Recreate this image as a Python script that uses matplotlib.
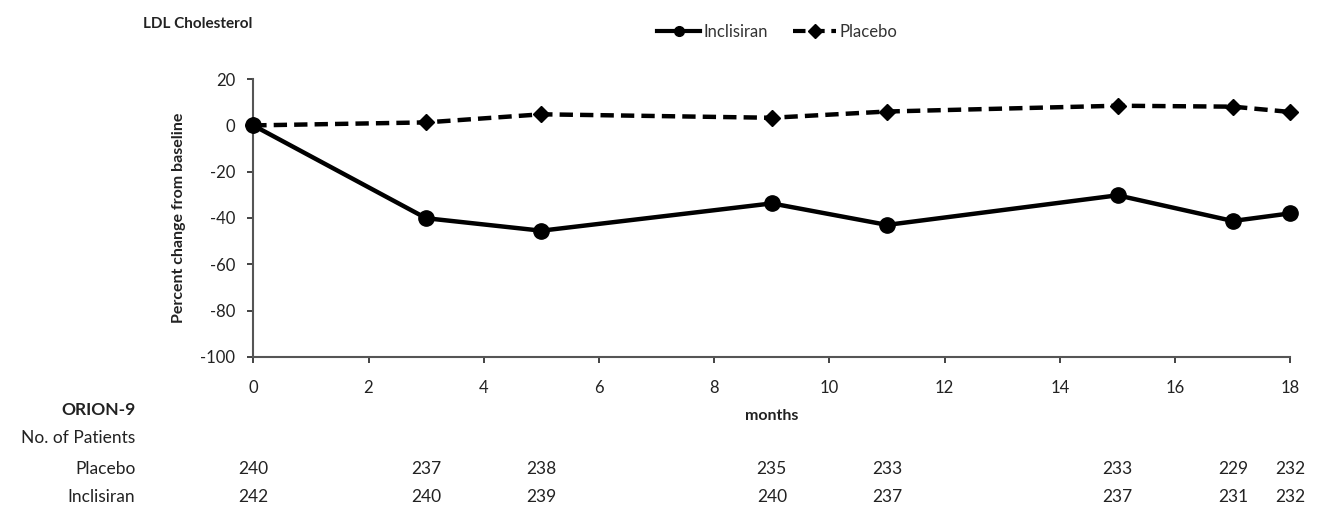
import matplotlib.pyplot as plt
import matplotlib.transforms as mtransforms

plt.rcParams['font.family'] = ['Lato', 'DejaVu Sans']
plt.rcParams['axes.unicode_minus'] = False

months = [0, 3, 5, 9, 11, 15, 17, 18]
inclisiran = [0, -40.1, -45.5, -33.7, -43.0, -30.2, -41.3, -38.0]
placebo = [0, 1.3, 4.8, 3.3, 6.0, 8.5, 8.1, 5.8]
n_placebo = [240, 237, 238, 235, 233, 233, 229, 232]
n_inclisiran = [242, 240, 239, 240, 237, 237, 231, 232]
xticks = [0, 2, 4, 6, 8, 10, 12, 14, 16, 18]
yticks = [20, 0, -20, -40, -60, -80, -100]

fig = plt.figure(figsize=(13.4, 5.31), dpi=100)
ax = fig.add_axes([0.189, 0.328, 0.774, 0.523])

ax.plot(months, inclisiran, '-', color='black', linewidth=3.2, marker='o',
        markersize=11, label='Inclisiran', zorder=3)
ax.plot(months, placebo, '--', color='black', linewidth=3.2, marker='D',
        markersize=8, dashes=(3, 1.6), label='Placebo', zorder=3)

ax.set_xlim(0, 18)
ax.set_ylim(-100, 20)
ax.set_xticks(xticks)
ax.set_yticks(yticks)
ax.tick_params(axis='both', labelsize=12, colors='#222222', length=4, width=1.2)
ax.tick_params(axis='x', pad=13)
ax.tick_params(axis='y', pad=9)
for s in ['top', 'right']:
    ax.spines[s].set_visible(False)
for s in ['left', 'bottom']:
    ax.spines[s].set_color('#555555')
    ax.spines[s].set_linewidth(1.5)
for ln in ax.lines:
    ln.set_clip_on(False)

ax.set_xlabel('months', fontsize=11.5, fontweight='bold', color='#222222', labelpad=9)
ax.set_ylabel('Percent change from baseline', fontsize=11.5, fontweight='bold',
              color='#222222', labelpad=10)

fig.text(0.107, 0.955, 'LDL Cholesterol', fontsize=11, fontweight='bold',
         color='#222222', va='center')

leg = fig.legend(loc='center', bbox_to_anchor=(0.58, 0.94), ncol=2, frameon=False,
                 fontsize=12, handlelength=2.6, columnspacing=1.5, handletextpad=0.2)
for t in leg.get_texts():
    t.set_color('#333333')
for h in leg.legend_handles:
    h.set_markersize(7)
    h.set_linewidth(3)

# patients at risk table
trans = mtransforms.blended_transform_factory(ax.transData, fig.transFigure)
xr = 0.101
fig.text(xr, 0.228, 'ORION-9', fontsize=12.5, fontweight='bold', ha='right',
         va='center', color='#222222')
fig.text(xr, 0.175, 'No. of Patients', fontsize=12.5, ha='right', va='center',
         color='#222222')
fig.text(xr, 0.117, 'Placebo', fontsize=12.5, ha='right', va='center', color='#222222')
fig.text(xr, 0.064, 'Inclisiran', fontsize=12.5, ha='right', va='center', color='#222222')
for m, a, b in zip(months, n_placebo, n_inclisiran):
    ax.text(m, 0.117, str(a), transform=trans, fontsize=12.5, ha='center', va='center',
            color='#222222')
    ax.text(m, 0.064, str(b), transform=trans, fontsize=12.5, ha='center', va='center',
            color='#222222')

fig.savefig('out.png', dpi=100)
